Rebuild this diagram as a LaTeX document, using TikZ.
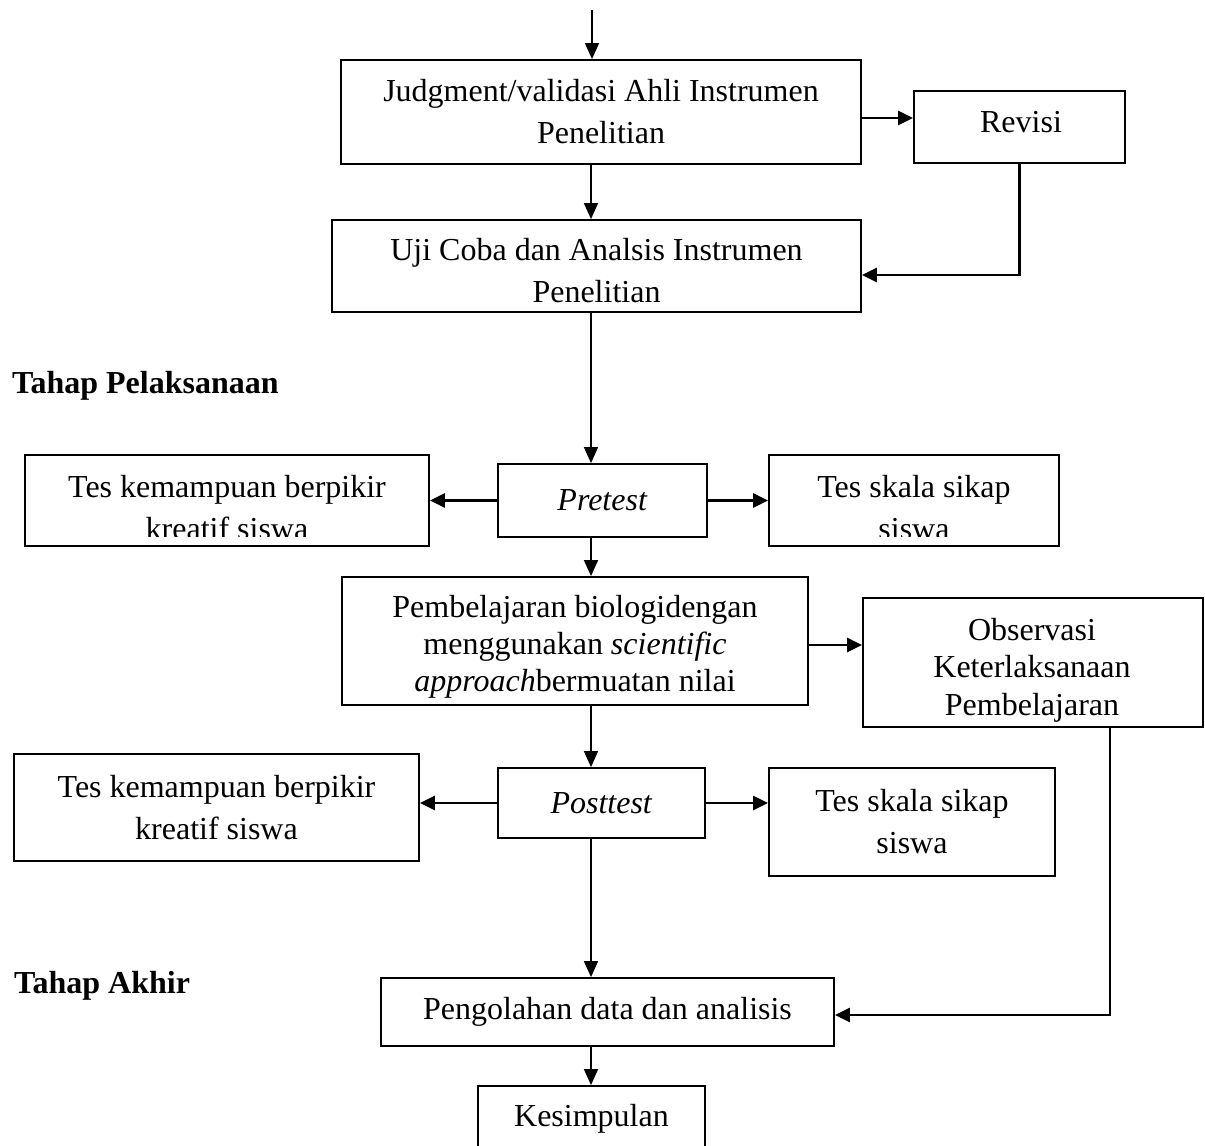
\documentclass[tikz,border=0pt]{standalone}
\usepackage{fontspec}
\setmainfont{Liberation Serif}
\usetikzlibrary{arrows.meta}
\tikzset{
  box/.style={draw, line width=1.8pt, inner sep=0pt, align=center, font=\fontsize{32}{42}\selectfont},
  txt/.style={inner sep=0pt, align=center, font=\fontsize{32}{42}\selectfont},
  txttight/.style={txt, font=\fontsize{32}{37}\selectfont},
  heading/.style={inner sep=0pt, anchor=west, font=\fontsize{32}{42}\selectfont\bfseries},
  varr/.style={line width=1.6pt, -{Triangle[length=16pt,width=14pt]}},
  harr/.style={line width=2.4pt, -{Triangle[length=15pt,width=14pt]}},
}
\begin{document}
\begin{tikzpicture}[x=1pt, y=-1pt]
\useasboundingbox (0,0) rectangle (1205,1146);
% axis coordinates
\coordinate (top) at (592,10);
\coordinate (ax) at (591,0);
\coordinate (ox) at (1110,0);
% boxes
\node[box, minimum width=520, minimum height=104] (judg) at (601,112) {Judgment/validasi Ahli Instrumen\\Penelitian};
\node[box, minimum width=211, minimum height=72] (rev) at (1019.5,127) {};
\node[txt] (revT) at (1021,122) {Revisi};
\node[box, minimum width=529, minimum height=92] (uji) at (596.5,266) {};
\node[txt] (ujiT) at (596.5,271) {Uji Coba dan Analsis Instrumen\\Penelitian};
\node[heading] (h1) at (12,386) {Tahap Pelaksanaan};
\node[box, minimum width=404, minimum height=91] (tl) at (227,500.5) {};
\node[box, minimum width=209, minimum height=73] (pre) at (602.5,500.5) {\textit{Pretest}};
\node[box, minimum width=290, minimum height=91] (tr) at (914,500.5) {};
\begin{scope}
  \clip (tl.north west) rectangle ([yshift=10.5pt]tl.south east);
  \node[txt] (tlT) at (227,508) {Tes kemampuan berpikir\\kreatif siswa};
\end{scope}
\begin{scope}
  \clip (tr.north west) rectangle ([yshift=10.5pt]tr.south east);
  \node[txt] (trT) at (914,508) {Tes skala sikap\\siswa};
\end{scope}
\node[box, minimum width=466, minimum height=128] (pem) at (575,641) {};
\node[txttight] (pemT) at (575,647) {Pembelajaran biologidengan\\menggunakan \textit{scientific}\\\textit{approach}bermuatan nilai};
\node[box, minimum width=340, minimum height=129] (obs) at (1033,662.5) {};
\node[txt, font=\fontsize{32}{37.5}\selectfont] (obsT) at (1032,670) {Observasi\\Keterlaksanaan\\Pembelajaran};
\node[box, minimum width=405, minimum height=107] (bl) at (216.5,807.5) {Tes kemampuan berpikir\\kreatif siswa};
\node[box, minimum width=207, minimum height=70] (post) at (601.5,803) {\textit{Posttest}};
\node[box, minimum width=286, minimum height=108] (br) at (912,822) {Tes skala sikap\\siswa};
\node[heading] (h2) at (14,986) {Tahap Akhir};
\node[box, minimum width=453, minimum height=68] (peng) at (607.5,1012) {Pengolahan data dan analisis};
\node[box, minimum width=227, minimum height=63] (kes) at (591.5,1117.5) {};
\node[txt] (kesT) at (591.5,1119) {Kesimpulan};
% connectors
\draw[varr] (top) -- (top |- judg.north);
\draw[harr] (judg.east |- {0,118}) -- (rev.west |- {0,118});
\draw[varr] (ax |- judg.south) -- (ax |- uji.north);
\draw[harr] (rev.south) -- (rev.south |- {0,275}) -- (uji.east |- {0,275});
\draw[varr] (ax |- uji.south) -- (ax |- pre.north);
\draw[harr] (pre.west) -- (pre.west -| tl.east);
\draw[harr] (pre.east) -- (pre.east -| tr.west);
\draw[varr] (ax |- pre.south) -- (ax |- pem.north);
\draw[harr] (pem.east |- {0,645}) -- (obs.west |- {0,645});
\draw[varr] (ax |- pem.south) -- (ax |- post.north);
\draw[harr] (post.west) -- (post.west -| bl.east);
\draw[harr] (post.east) -- (post.east -| br.west);
\draw[varr] (ax |- post.south) -- (ax |- peng.north);
\draw[harr] (ox |- obs.south) -- (ox |- {0,1015}) -- (peng.east |- {0,1015});
\draw[varr] (ax |- peng.south) -- (ax |- kes.north);
\end{tikzpicture}
\end{document}
